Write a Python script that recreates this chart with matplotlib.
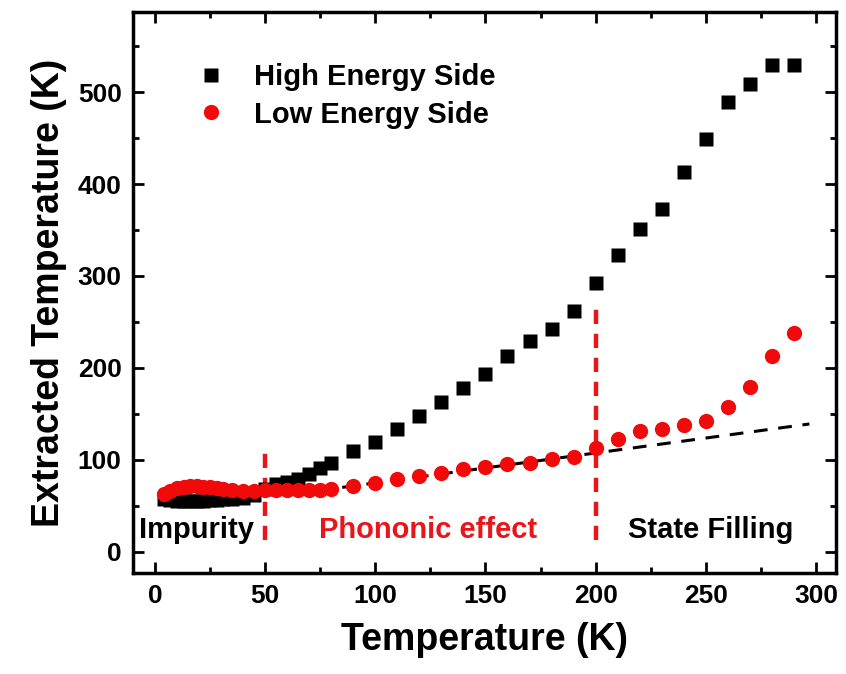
import matplotlib
matplotlib.use("Agg")
import matplotlib.pyplot as plt
import numpy as np

# measurement temperatures (K)
temps = [4, 7, 10, 13, 16, 19, 22, 25, 28, 31, 35, 40, 45, 50, 55, 60, 65, 70, 75, 80,
         90, 100, 110, 120, 130, 140, 150, 160, 170, 180, 190, 200,
         210, 220, 230, 240, 250, 260, 270, 280, 290]

# extracted carrier temperature, high energy side (K)
high_side = [57, 56, 55, 55, 55, 55, 55.5, 56, 56, 57, 57, 59, 62, 68, 74, 76, 79, 85, 91, 97,
             110, 119, 134, 148, 163, 178, 193, 213, 229, 242, 262, 292,
             323, 351, 373, 413, 449, 489, 509, 530, 529]

# extracted carrier temperature, low energy side (K)
low_side = [63, 66, 69, 70, 71, 71, 70.5, 70, 69, 68, 67, 66, 66, 67, 67, 67, 67, 67, 67.5, 68,
            71, 75, 79, 82, 86, 90, 92, 96, 97, 101, 103, 113,
            123, 131, 133, 138, 142, 157, 179, 213, 238]

# linear guide through the phononic region
fit_T = [85, 297]
fit_val = [70, 139]

# region boundaries
bound_T = [50, 200]
bound_top = [111, 268]
bound_bottom = 13

font = "Liberation Sans"
plt.rcParams['font.family'] = [font, 'DejaVu Sans']
plt.rcParams['font.weight'] = 'bold'

fig = plt.figure(figsize=(8.46, 6.74), dpi=100)
ax = fig.add_axes([0.157, 0.150, 0.831, 0.832])

ax.plot(fit_T, fit_val, color='black', ls=(0, (4.5, 3.5)), lw=2.2, zorder=2)
for t, top in zip(bound_T, bound_top):
    ax.plot([t, t], [bound_bottom, top], color='#e8151b', ls=(0, (3.2, 2.2)), lw=3.2, zorder=2)

ax.plot(temps, high_side, 's', color='black', ms=10, mec='none', label='High Energy Side', zorder=3)
ax.plot(temps, low_side, 'o', color='#f20a0a', ms=11, mec='none', label='Low Energy Side', zorder=4)

ax.text(-7, 24, 'Impurity', fontsize=21, fontweight='bold', color='black', va='center', ha='left')
ax.text(124, 24, 'Phononic effect', fontsize=21, fontweight='bold', color='#e8151b', va='center', ha='center')
ax.text(252, 24, 'State Filling', fontsize=21, fontweight='bold', color='black', va='center', ha='center')

ax.set_xlim(-10, 309)
ax.set_ylim(-23, 587)
ax.set_xticks(np.arange(0, 301, 50))
ax.set_xticks(np.arange(25, 301, 50), minor=True)
ax.set_yticks(np.arange(0, 501, 100))
ax.set_yticks(np.arange(50, 551, 100), minor=True)

ax.tick_params(which='both', direction='in', top=True, right=True, width=2)
ax.tick_params(which='major', length=8, labelsize=19, pad=8)
ax.tick_params(which='minor', length=4.5)
for lab in ax.get_xticklabels() + ax.get_yticklabels():
    lab.set_fontweight('bold')
for s in ax.spines.values():
    s.set_linewidth(2.5)

ax.set_xlabel('Temperature (K)', fontsize=27, fontweight='bold', labelpad=10)
ax.set_ylabel('Extracted Temperature (K)', fontsize=27, fontweight='bold', labelpad=8)

leg = ax.legend(loc='upper left', bbox_to_anchor=(0.032, 0.956), frameon=False,
                prop={'family': font, 'weight': 'bold', 'size': 21},
                handletextpad=0.5, labelspacing=0.33, markerscale=1.0)

fig.savefig('out.png', dpi=100)
